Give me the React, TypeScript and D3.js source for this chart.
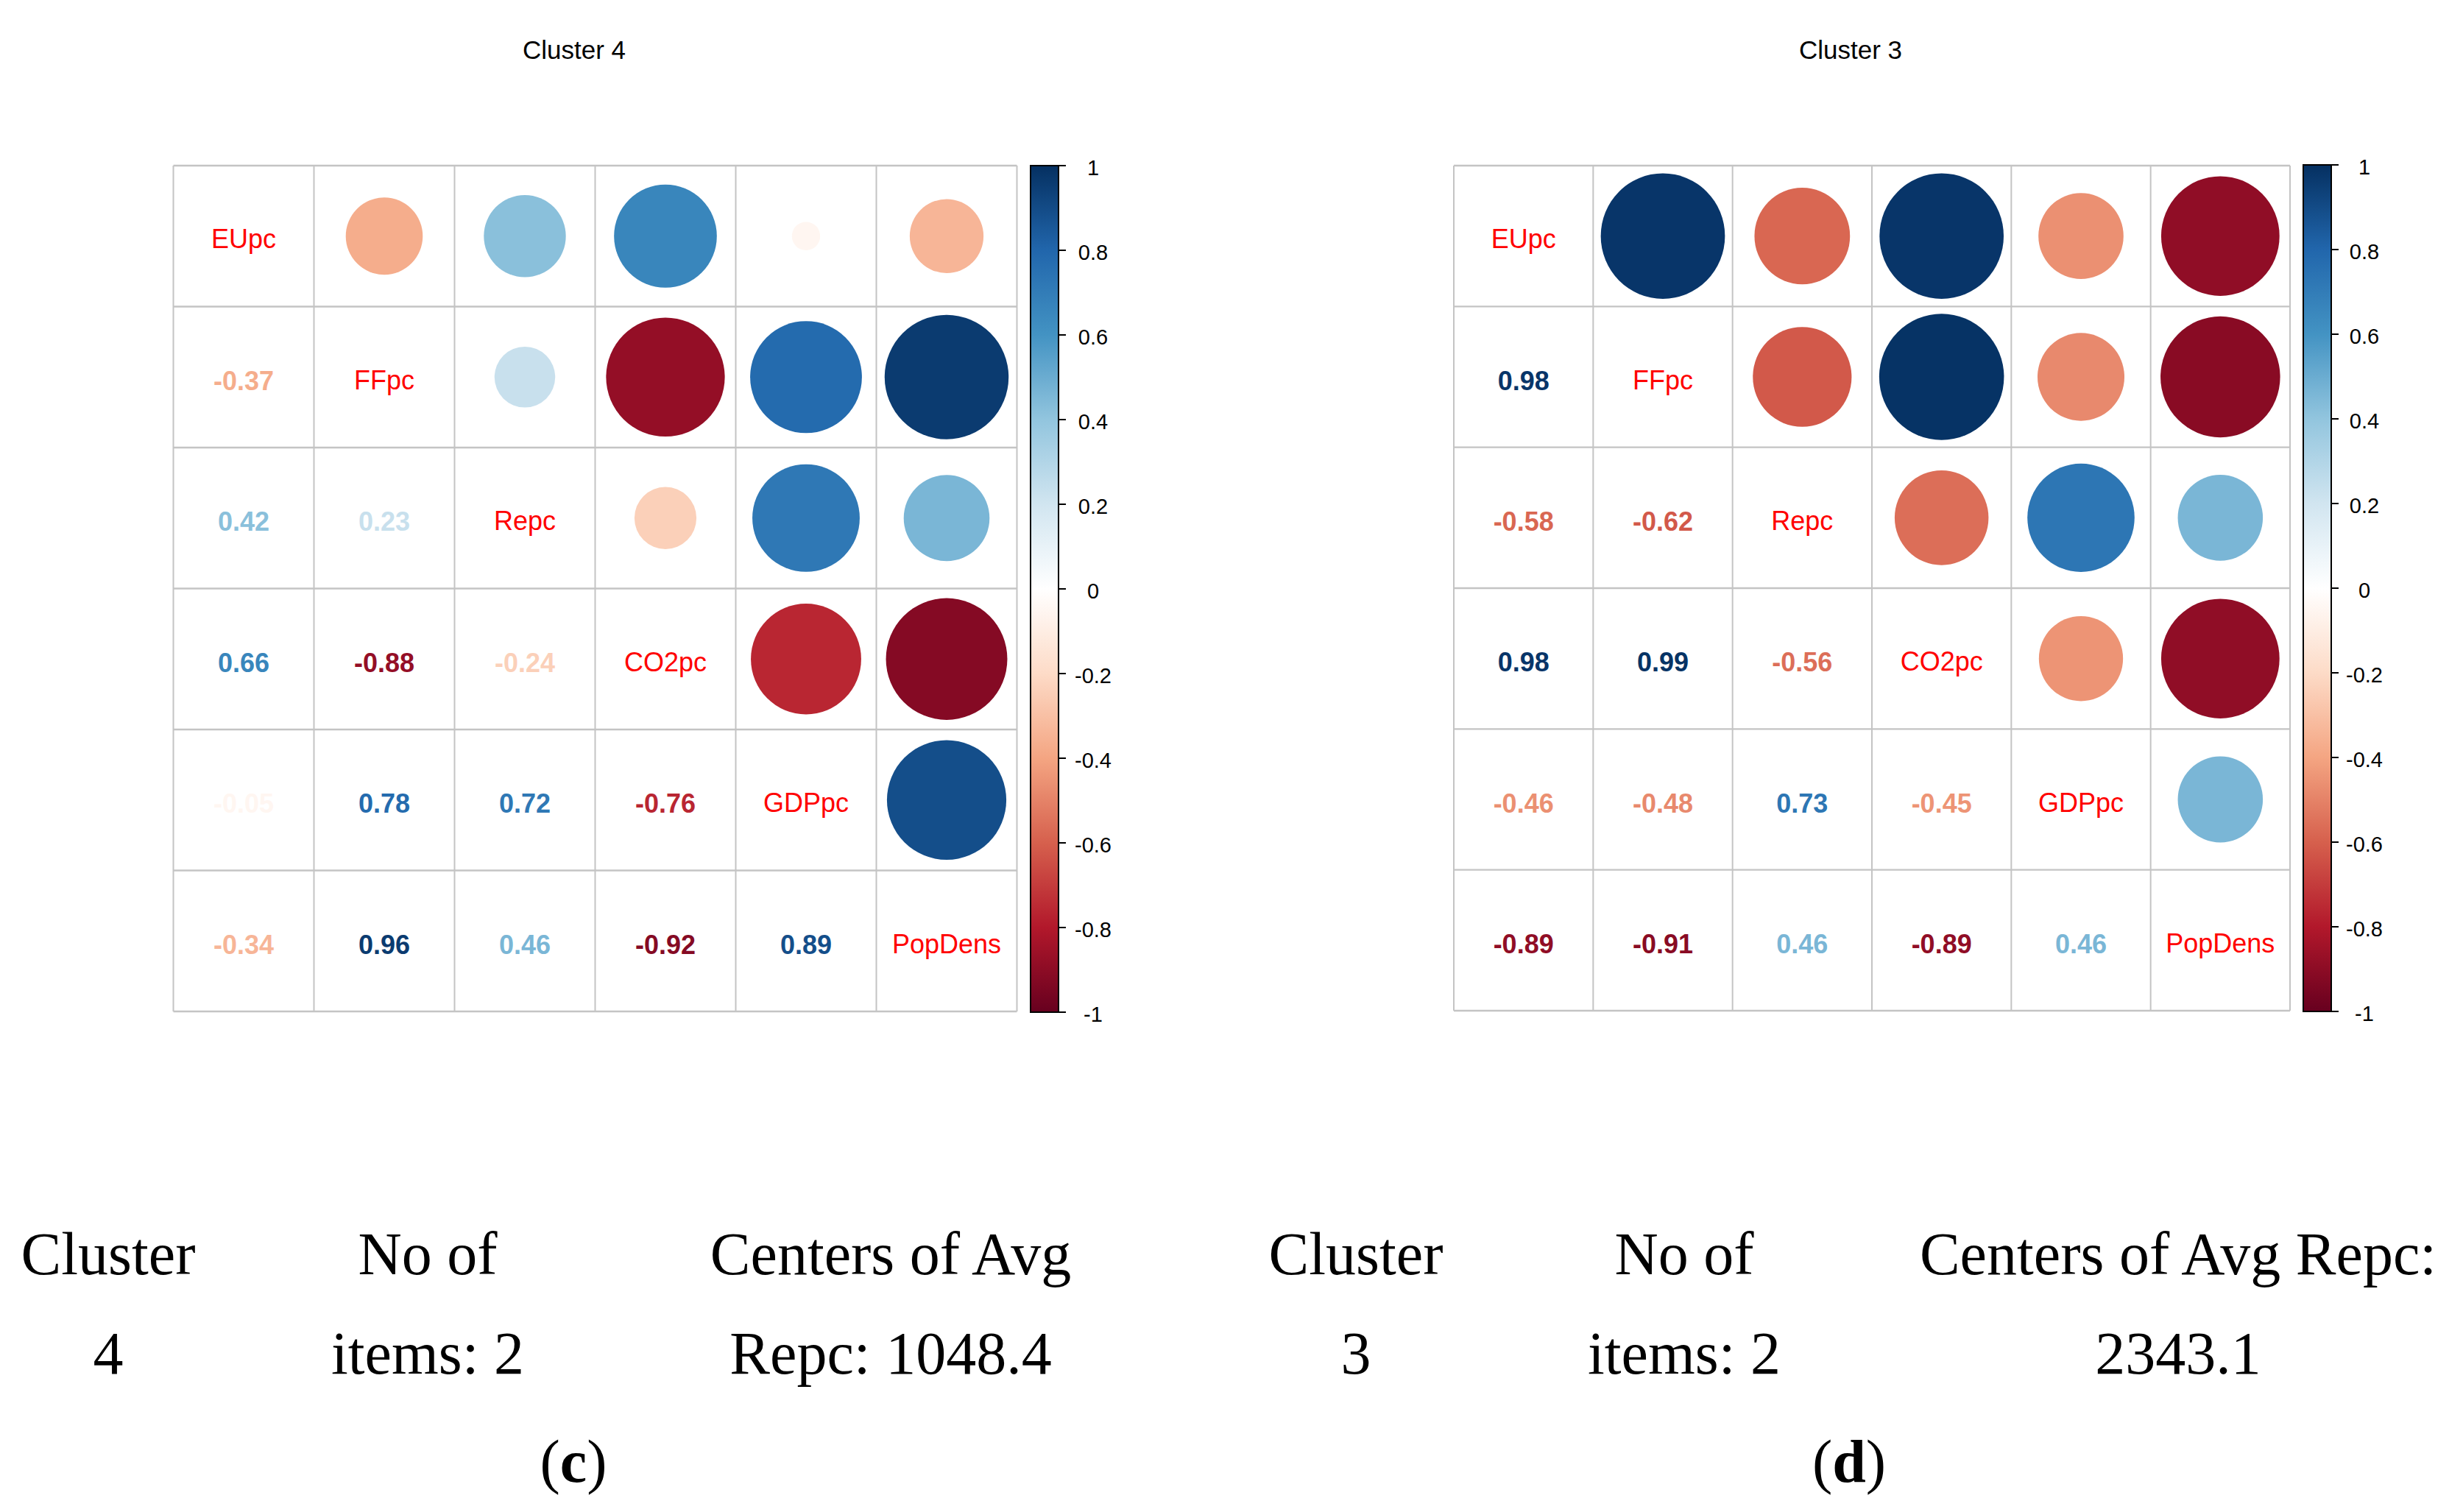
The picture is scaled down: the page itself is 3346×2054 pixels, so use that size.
import React from "react";
import * as d3 from "d3";

const variables = ["EUpc", "FFpc", "Repc", "CO2pc", "GDPpc", "PopDens"];

// lower-triangle correlations (row i, columns 0..i-1)
const cluster4Lower = [
  [],
  [-0.37],
  [0.42, 0.23],
  [0.66, -0.88, -0.24],
  [-0.05, 0.78, 0.72, -0.76],
  [-0.34, 0.96, 0.46, -0.92, 0.89],
];
const cluster3Lower = [
  [],
  [0.98],
  [-0.58, -0.62],
  [0.98, 0.99, -0.56],
  [-0.46, -0.48, 0.73, -0.45],
  [-0.89, -0.91, 0.46, -0.89, 0.46],
];

const paletteStops = [
  "#67001F", "#B2182B", "#D6604D", "#F4A582", "#FDDBC7", "#FFFFFF",
  "#D1E5F0", "#92C5DE", "#4393C3", "#2166AC", "#053061",
];
const colorTicks = [-1, -0.8, -0.6, -0.4, -0.2, 0, 0.2, 0.4, 0.6, 0.8, 1];

const titles = ["Cluster 4", "Cluster 3"];
const captionRow1Left = ["Cluster", "No of", "Centers of Avg"];
const captionRow2Left = ["4", "items: 2", "Repc: 1048.4"];
const captionRow1Right = ["Cluster", "No of", "Centers of Avg Repc:"];
const captionRow2Right = ["3", "items: 2", "2343.1"];
const panelLetters = ["c", "d"];

const W = 3346;
const H = 2054;

const color = d3
  .scaleLinear<string>()
  .domain(d3.range(paletteStops.length).map((i) => -1 + (2 * i) / (paletteStops.length - 1)))
  .range(paletteStops)
  .interpolate(d3.interpolateRgb);

function fullMatrix(lower: number[][]) {
  const n = variables.length;
  const m: number[][] = [];
  for (let i = 0; i < n; i++) {
    m.push([]);
    for (let j = 0; j < n; j++) {
      if (i === j) m[i].push(1);
      else if (j < i) m[i].push(lower[i][j]);
      else m[i].push(lower[j][i]);
    }
  }
  return m;
}

const fmt = (v: number) => v.toFixed(2);
const tickFmt = (v: number) => String(Math.round(v * 10) / 10);

type PanelLayout = {
  gx0: number;
  gx1: number;
  gy0: number;
  gy1: number;
  titleX: number;
  barX0: number;
  barX1: number;
  barY0: number;
  barY1: number;
  labelX: number;
};

const layouts: PanelLayout[] = [
  { gx0: 235.5, gx1: 1381.5, gy0: 225, gy1: 1374, titleX: 780, barX0: 1400, barX1: 1438, barY0: 225, barY1: 1375, labelX: 1485 },
  { gx0: 1975, gx1: 3111, gy0: 225, gy1: 1373, titleX: 2514, barX0: 3129, barX1: 3167, barY0: 224, barY1: 1374, labelX: 3212 },
];

function CorrPanel({ lower, layout, title, idx }: { lower: number[][]; layout: PanelLayout; title: string; idx: number }) {
  const m = fullMatrix(lower);
  const x = d3.scaleBand<string>().domain(variables).range([layout.gx0, layout.gx1]);
  const y = d3.scaleBand<string>().domain(variables).range([layout.gy0, layout.gy1]);
  const cw = x.bandwidth();
  const ch = y.bandwidth();
  const barScale = d3.scaleLinear().domain([-1, 1]).range([layout.barY1, layout.barY0]);
  const gradId = `grad${idx}`;
  const sansFont = "'Liberation Sans', Arial, sans-serif";

  const cells: React.ReactNode[] = [];
  variables.forEach((rv, i) => {
    variables.forEach((cv, j) => {
      const cx = (x(cv) as number) + cw / 2;
      const cy = (y(rv) as number) + ch / 2;
      const v = m[i][j];
      if (i === j) {
        cells.push(
          <text key={`d${i}`} x={cx} y={cy + 16.5} textAnchor="middle" fontFamily={sansFont} fontSize={36} fill="#FF0000">
            {rv}
          </text>
        );
      } else if (j < i) {
        cells.push(
          <text key={`n${i}-${j}`} x={cx} y={cy + 17.5} textAnchor="middle" fontFamily={sansFont} fontWeight="bold" fontSize={36} fill={color(v)}>
            {fmt(v)}
          </text>
        );
      } else {
        const s = Math.sqrt(Math.abs(v));
        cells.push(
          <ellipse key={`c${i}-${j}`} cx={cx} cy={cy} rx={0.45 * s * cw} ry={0.45 * s * ch} fill={color(v)} />
        );
      }
    });
  });

  const gridLines: React.ReactNode[] = [];
  for (let k = 0; k <= variables.length; k++) {
    const gx = layout.gx0 + k * cw;
    const gy = layout.gy0 + k * ch;
    gridLines.push(<line key={`v${k}`} x1={gx} x2={gx} y1={layout.gy0} y2={layout.gy1} stroke="#C4C4C4" strokeWidth={2} />);
    gridLines.push(<line key={`h${k}`} x1={layout.gx0} x2={layout.gx1} y1={gy} y2={gy} stroke="#C4C4C4" strokeWidth={2.4} />);
  }

  return (
    <g>
      <defs>
        <linearGradient id={gradId} x1="0" y1="1" x2="0" y2="0">
          {paletteStops.map((c, k) => (
            <stop key={k} offset={k / (paletteStops.length - 1)} stopColor={c} />
          ))}
        </linearGradient>
      </defs>
      <text x={layout.titleX} y={80} textAnchor="middle" fontFamily={sansFont} fontSize={35} fill="#000">
        {title}
      </text>
      {gridLines}
      {cells}
      <rect
        x={layout.barX0}
        y={layout.barY0}
        width={layout.barX1 - layout.barX0}
        height={layout.barY1 - layout.barY0}
        fill={`url(#${gradId})`}
        stroke="#000"
        strokeWidth={2}
      />
      {colorTicks.map((t) => (
        <g key={t}>
          <line x1={layout.barX1} x2={layout.barX1 + 10} y1={barScale(t)} y2={barScale(t)} stroke="#000" strokeWidth={2} />
          <text x={layout.labelX} y={barScale(t) + 13} textAnchor="middle" fontFamily={sansFont} fontSize={29} fill="#000">
            {tickFmt(t)}
          </text>
        </g>
      ))}
    </g>
  );
}

function Captions({ row1, row2, centers, letter, letterX }: { row1: string[]; row2: string[]; centers: number[]; letter: string; letterX: number }) {
  const serif = "'Liberation Serif', 'Times New Roman', serif";
  return (
    <g fontFamily={serif} fontSize={82} fill="#000">
      {row1.map((t, k) => (
        <text key={`a${k}`} x={centers[k]} y={1731} textAnchor="middle">
          {t}
        </text>
      ))}
      {row2.map((t, k) => (
        <text key={`b${k}`} x={centers[k]} y={1866} textAnchor="middle">
          {t}
        </text>
      ))}
      <text x={letterX} y={2013} textAnchor="middle">
        (<tspan fontWeight="bold">{letter}</tspan>)
      </text>
    </g>
  );
}

export default function App() {
  return (
    <svg width={W} height={H} style={{ position: "absolute", left: 0, top: 0, background: "#fff" }}>
      <rect x={0} y={0} width={W} height={H} fill="#fff" />
      <CorrPanel lower={cluster4Lower} layout={layouts[0]} title={titles[0]} idx={0} />
      <CorrPanel lower={cluster3Lower} layout={layouts[1]} title={titles[1]} idx={1} />
      <Captions row1={captionRow1Left} row2={captionRow2Left} centers={[147, 581, 1210]} letter={panelLetters[0]} letterX={779} />
      <Captions row1={captionRow1Right} row2={captionRow2Right} centers={[1842, 2288, 2959]} letter={panelLetters[1]} letterX={2512} />
    </svg>
  );
}
